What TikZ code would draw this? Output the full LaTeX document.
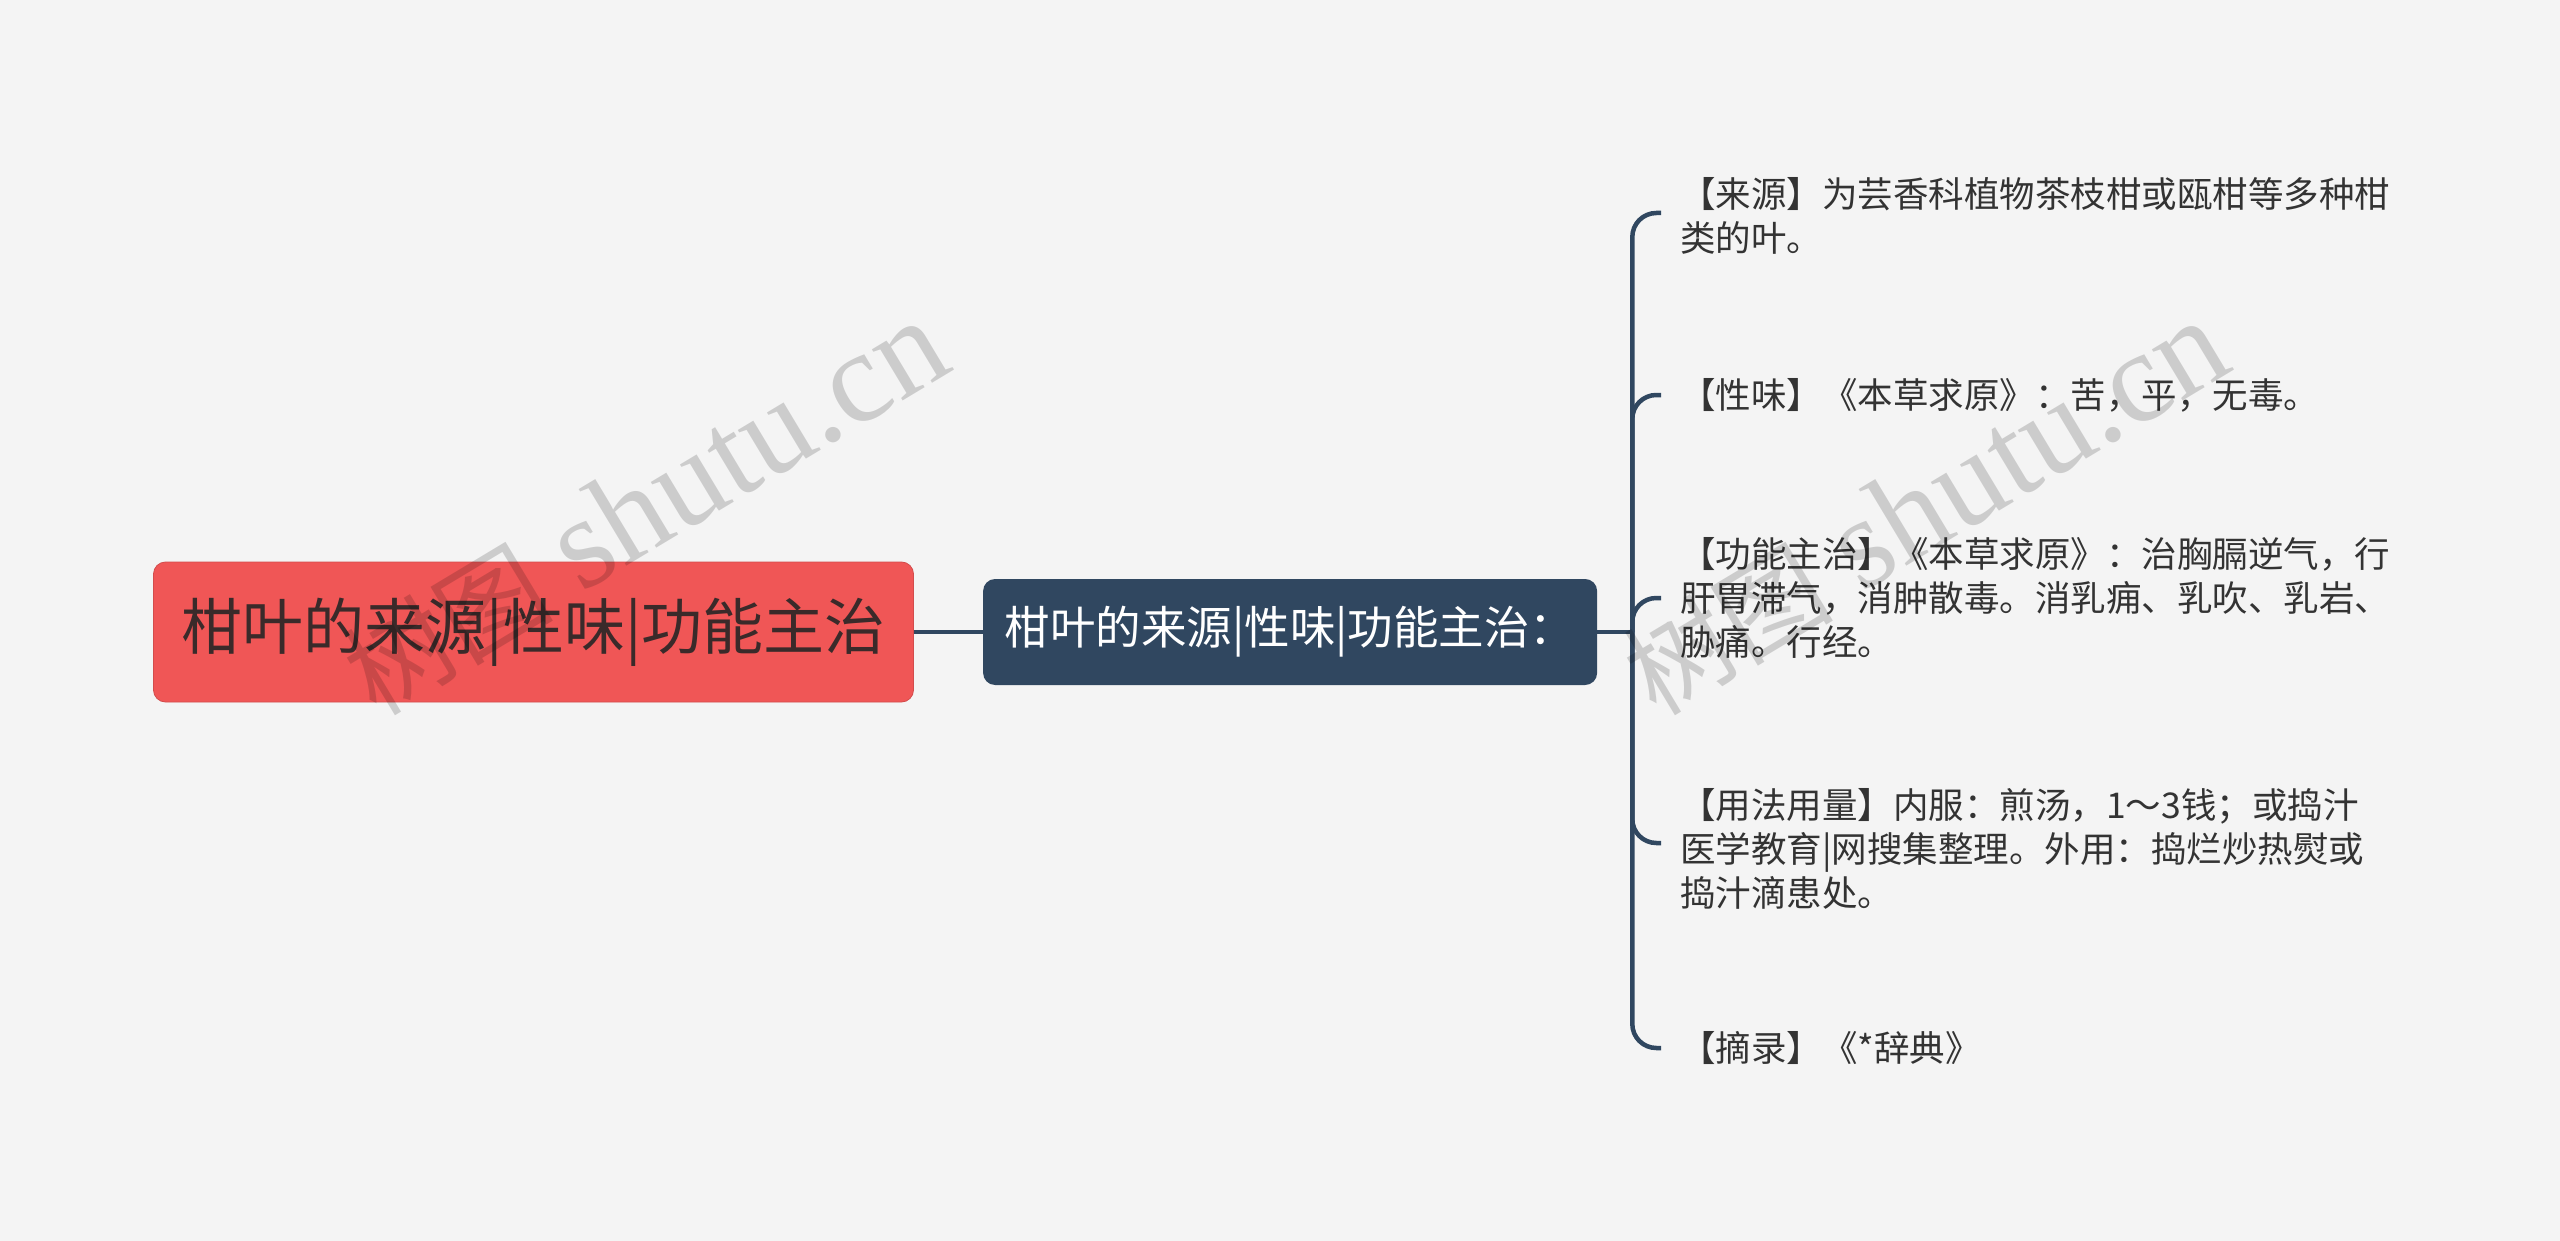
\documentclass[tikz,border=0pt]{standalone}
\usepackage{fontspec}
\setmainfont{Noto Sans CJK SC}
\newfontfamily\markfont{Liberation Serif}
\usepackage{xcolor}
\definecolor{bggrey}{HTML}{F4F4F4}
\definecolor{rootred}{HTML}{F05656}
\definecolor{slate}{HTML}{304760}
\definecolor{inkgrey}{HTML}{333333}
\definecolor{rootink}{HTML}{3A2A2A}
\usepackage{tikz}
\usetikzlibrary{positioning}

\begin{document}
\begin{tikzpicture}[
    x=1pt, y=-1pt,
    root/.style={rectangle, rounded corners=12pt, fill=rootred, draw=rootred!88!black, line width=0.8pt, minimum width=760pt, minimum height=140pt, text=rootink, font=\fontsize{61}{74}\selectfont},
    hub/.style={rectangle, rounded corners=12pt, fill=slate, minimum width=614pt, minimum height=106pt, text=white, font=\fontsize{45.5}{56}\selectfont},
    leaf/.style={inner sep=0pt, align=left, text=inkgrey, font=\fontsize{35.5}{44}\selectfont},
    line/.style={draw=slate, line width=4.5pt},
    branch/.style={draw=slate, line width=4.5pt, rounded corners=24pt},
    wmark/.style={text=black, opacity=0.16, rotate=31, font=\fontsize{130}{130}\selectfont}
  ]
    % Background
    \fill [bggrey] (0,0) rectangle (2560,1241);

    % Nodes - root and hub
    \node [root] (root) at (533.5,632) {柑叶的来源|性味|功能主治};
    \node [hub, right=69pt of root] (hub) {柑叶的来源|性味|功能主治：};
    \coordinate [right=35pt of hub] (fork);

    % Branch ends
    \coordinate (e1) at (1661,213);
    \coordinate (e2) at (1661,395);
    \coordinate (e3) at (1661,598);
    \coordinate (e4) at (1661,843);
    \coordinate (e5) at (1661,1048);

    % Leaves
    \node [leaf, right=19pt of e1, yshift=-3pt] (source) {【来源】为芸香科植物茶枝柑或瓯柑等多种柑\\类的叶。};
    \node [leaf, right=19pt of e2] (taste) {【性味】《本草求原》：苦，平，无毒。};
    \node [leaf, right=19pt of e3] (usage) {【功能主治】《本草求原》：治胸膈逆气，行\\肝胃滞气，消肿散毒。消乳痈、乳吹、乳岩、\\胁痛。行经。};
    \node [leaf, right=19pt of e4, yshift=-6pt] (dose) {【用法用量】内服：煎汤，1～3钱；或捣汁\\医学教育|网搜集整理。外用：捣烂炒热熨或\\捣汁滴患处。};
    \node [leaf, right=19pt of e5] (excerpt) {【摘录】《*辞典》};

    % Paths
    \path [line] (root) -- (hub);
    \path [line] (hub) -- (fork);
    \path [branch] (fork) |- (e1);
    \path [branch] (fork) |- (e2);
    \path [branch] (fork) |- (e3);
    \path [branch] (fork) |- (e4);
    \path [branch] (fork) |- (e5);

    % Watermarks
    \node [wmark] (wm1) at (645,508) {{\fontsize{105}{105}\selectfont 树图} {\markfont shutu.cn}};
    \node [wmark] (wm2) at (1925,508) {{\fontsize{105}{105}\selectfont 树图} {\markfont shutu.cn}};
\end{tikzpicture}
\end{document}
